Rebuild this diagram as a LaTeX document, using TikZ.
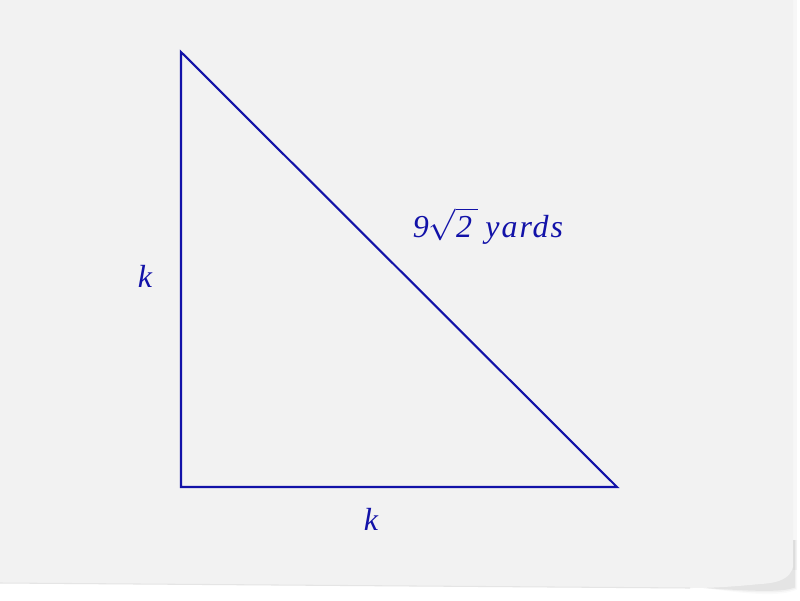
\documentclass[tikz,border=0pt]{standalone}
\usepackage{fontspec}
\setmainfont{Liberation Serif}
\definecolor{ink}{RGB}{18,18,168}
\definecolor{paper}{RGB}{242,242,242}
\tikzset{
  edge/.style={draw=ink, line width=0.6pt, line join=miter},
  lbl/.style={text=ink, font=\fontsize{9.1}{11}\selectfont\itshape, inner sep=0pt, anchor=base}
}
\begin{document}
\begin{tikzpicture}[x=1cm,y=1cm]
\useasboundingbox (0,0) rectangle (8,6);
\fill[white] (0,0) rectangle (8,6);
% soft shadow under curl and right edge
\foreach \o/\e in {0.05/0.03,0.035/0.05,0.02/0.07}{
  \fill[black, opacity=\o] (6.9,0.12+\e*0.3) .. controls (7.5,0.12-\e) and (7.8,0.10-\e) .. (7.93+\e*0.6,0.14-\e*0.5)
    -- (7.93+\e*0.6,0.6) -- (7.93,0.6) -- (7.93,0.33) -- cycle;
}
\fill[black, opacity=0.03] (7.93,0.3) rectangle (7.97,6);
% paper
\fill[paper] (0,6) -- (7.93,6) -- (7.93,0.33)
  .. controls (7.90,0.22) and (7.80,0.17) .. (7.60,0.16)
  .. controls (7.3,0.13) and (7.1,0.12) .. (6.9,0.12)
  -- (0,0.17) -- cycle;
\draw[black!10, line width=0.3pt] (0,0.17) -- (6.9,0.12);
% triangle
\coordinate (A) at (1.81,5.48);
\coordinate (B) at (1.81,1.13);
\coordinate (C) at (6.17,1.13);
\draw[edge] (A) -- (B) -- (C) -- cycle;
\node[lbl] (kl) at (1.45,3.13) {k};
\node[lbl] (kb) at (3.71,0.70) {k};
\node[lbl] (hyp) at (4.88,3.63) {9$\sqrt{\mbox{2}\kern0.2em}$\hspace{0.22em}{\addfontfeature{LetterSpace=6}yards}};
\end{tikzpicture}
\end{document}
